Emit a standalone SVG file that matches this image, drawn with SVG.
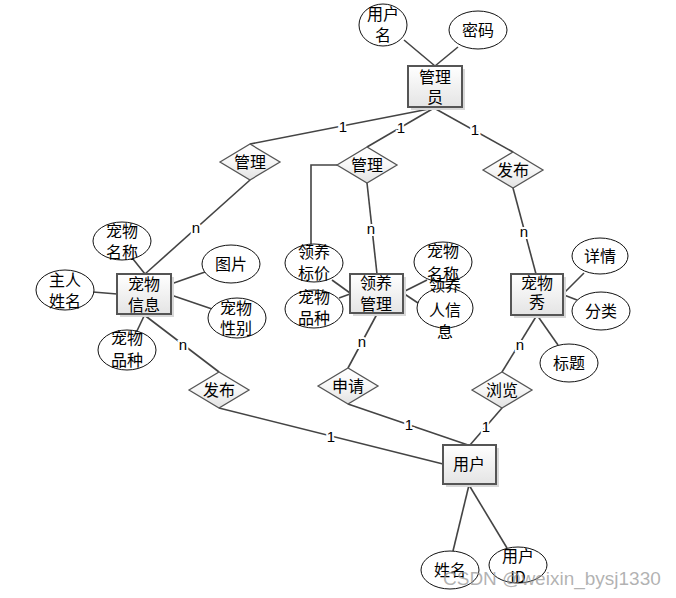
<svg xmlns="http://www.w3.org/2000/svg" width="676" height="598" viewBox="0 0 676 598">
<defs>
<linearGradient id="gBox" x1="0" y1="0" x2="0" y2="1"><stop offset="0" stop-color="#ffffff"/><stop offset="1" stop-color="#e4e4e4"/></linearGradient>
<linearGradient id="gDia" x1="0" y1="0" x2="0" y2="1"><stop offset="0" stop-color="#ffffff"/><stop offset="0.5" stop-color="#f7f7f7"/><stop offset="1" stop-color="#e2e2e2"/></linearGradient>
</defs>
<style>
.ln{stroke:#444;stroke-width:1.6;fill:none}
.box{fill:url(#gBox);stroke:#555;stroke-width:2}
.sh{fill:#d8d8d8}
.dia{fill:url(#gDia);stroke:#555;stroke-width:1.3}
.ell{fill:#fff;stroke:#111;stroke-width:1}
.t{font-family:"Noto Sans CJK SC","Liberation Sans",sans-serif;font-size:16px;fill:#000;text-anchor:middle}
.c{font-family:"Liberation Sans",sans-serif;font-size:15px;fill:#000;text-anchor:middle;stroke:#fff;stroke-width:4;paint-order:stroke}
.wm{font-family:"Liberation Sans",sans-serif;font-size:19px;fill:#999;fill-opacity:0.75}
</style>
<g id="connectors">
<path class="ln" d="M404,40 L435,66"/>
<path class="ln" d="M458,47 L435,66"/>
<path class="ln" d="M434,108 L250,144"/>
<path class="ln" d="M434,108 L367,147"/>
<path class="ln" d="M434,108 L513,152"/>
<path class="ln" d="M250,180 L145,274"/>
<path class="ln" d="M337,165 L311,165 L311,244"/>
<path class="ln" d="M367,183 L377,274"/>
<path class="ln" d="M513,188 L536,274"/>
<path class="ln" d="M133,259 L145,274"/>
<path class="ln" d="M171,284 L205,272"/>
<path class="ln" d="M171,295 L212,309"/>
<path class="ln" d="M93,292 L117,294"/>
<path class="ln" d="M145,314 L136,333"/>
<path class="ln" d="M143,314 L219,372"/>
<path class="ln" d="M332,280 L350,293"/>
<path class="ln" d="M339,298 L350,294"/>
<path class="ln" d="M403,292 L427,280"/>
<path class="ln" d="M403,293 L418,303"/>
<path class="ln" d="M377,314 L348,368"/>
<path class="ln" d="M564,293 L584,273"/>
<path class="ln" d="M564,295 L577,300"/>
<path class="ln" d="M537,315 L502,372"/>
<path class="ln" d="M537,315 L558,345"/>
<path class="ln" d="M219,408 L443,464"/>
<path class="ln" d="M348,404 L468,445"/>
<path class="ln" d="M502,408 L470,445"/>
<path class="ln" d="M469,485 L453,551"/>
<path class="ln" d="M469,485 L507,548"/>
<text class="c" x="343" y="132">1</text>
<text class="c" x="401" y="133">1</text>
<text class="c" x="475" y="135">1</text>
<text class="c" x="196" y="233">n</text>
<text class="c" x="371" y="234">n</text>
<text class="c" x="524" y="237">n</text>
<text class="c" x="183" y="350">n</text>
<text class="c" x="362" y="347">n</text>
<text class="c" x="520" y="350">n</text>
<text class="c" x="331" y="442">1</text>
<text class="c" x="409" y="430">1</text>
<text class="c" x="486" y="432">1</text>
</g>
<g id="admin"><rect class="sh" x="411" y="69" width="54" height="41"/><rect class="box" x="408" y="66" width="54" height="41"/><text class="t" x="435" y="83">管理</text><text class="t" x="435" y="103">员</text></g>
<g id="admin-username"><ellipse class="ell" cx="383" cy="25" rx="24" ry="21"/><text class="t" x="383" y="20">用户</text><text class="t" x="383" y="41">名</text></g>
<g id="admin-password"><ellipse class="ell" cx="478" cy="30" rx="29" ry="19"/><text class="t" x="478" y="36">密码</text></g>
<g id="rel-manage1"><path class="dia" d="M220,162 L250,144 L280,162 L250,180 Z"/><text class="t" x="250" y="168">管理</text></g>
<g id="rel-manage2"><path class="dia" d="M337,165 L367,147 L397,165 L367,183 Z"/><text class="t" x="367" y="171">管理</text></g>
<g id="rel-publish1"><path class="dia" d="M483,170 L513,152 L543,170 L513,188 Z"/><text class="t" x="513" y="176">发布</text></g>
<g id="pet-info"><rect class="sh" x="120" y="277" width="54" height="40"/><rect class="box" x="117" y="274" width="54" height="40"/><text class="t" x="144" y="290">宠物</text><text class="t" x="144" y="311">信息</text></g>
<g id="pi-name"><ellipse class="ell" cx="122" cy="241" rx="29" ry="19"/><text class="t" x="122" y="237">宠物</text><text class="t" x="122" y="258">名称</text></g>
<g id="pi-pic"><ellipse class="ell" cx="231" cy="264" rx="29" ry="19"/><text class="t" x="231" y="270">图片</text></g>
<g id="pi-sex"><ellipse class="ell" cx="237" cy="318" rx="29" ry="20"/><text class="t" x="236" y="314">宠物</text><text class="t" x="236" y="334">性别</text></g>
<g id="pi-owner"><ellipse class="ell" cx="65" cy="290" rx="29" ry="20"/><text class="t" x="65" y="286">主人</text><text class="t" x="65" y="307">姓名</text></g>
<g id="pi-breed"><ellipse class="ell" cx="127" cy="350" rx="29" ry="20"/><text class="t" x="127" y="344">宠物</text><text class="t" x="127" y="366">品种</text></g>
<g id="adopt"><rect class="sh" x="353" y="277" width="53" height="39"/><rect class="box" x="350" y="274" width="53" height="39"/><text class="t" x="376" y="289">领养</text><text class="t" x="376" y="310">管理</text></g>
<g id="ad-price"><ellipse class="ell" cx="314" cy="263" rx="29" ry="19"/><text class="t" x="314" y="258">领养</text><text class="t" x="314" y="279">标价</text></g>
<g id="ad-breed"><ellipse class="ell" cx="314" cy="309" rx="29" ry="19"/><text class="t" x="314" y="303">宠物</text><text class="t" x="314" y="324">品种</text></g>
<g id="ad-name"><ellipse class="ell" cx="443" cy="262" rx="29" ry="20"/><text class="t" x="443" y="257">宠物</text><text class="t" x="443" y="280">名称</text></g>
<g id="ad-person"><ellipse class="ell" cx="445" cy="308" rx="28" ry="20"/><text class="t" x="445" y="291">领养</text><text class="t" x="445" y="316">人信</text><text class="t" x="445" y="338">息</text></g>
<g id="pet-show"><rect class="sh" x="514" y="277" width="52" height="41"/><rect class="box" x="511" y="274" width="52" height="41"/><text class="t" x="537" y="289">宠物</text><text class="t" x="537" y="308">秀</text></g>
<g id="ps-detail"><ellipse class="ell" cx="600" cy="256" rx="28" ry="18"/><text class="t" x="600" y="262">详情</text></g>
<g id="ps-category"><ellipse class="ell" cx="601" cy="311" rx="29" ry="19"/><text class="t" x="601" y="317">分类</text></g>
<g id="ps-title"><ellipse class="ell" cx="569" cy="363" rx="29" ry="19"/><text class="t" x="569" y="369">标题</text></g>
<g id="rel-publish2"><path class="dia" d="M189,390 L219,372 L249,390 L219,408 Z"/><text class="t" x="219" y="396">发布</text></g>
<g id="rel-apply"><path class="dia" d="M318,386 L348,368 L378,386 L348,404 Z"/><text class="t" x="348" y="392">申请</text></g>
<g id="rel-browse"><path class="dia" d="M472,390 L502,372 L532,390 L502,408 Z"/><text class="t" x="502" y="396">浏览</text></g>
<g id="user"><rect class="sh" x="446" y="448" width="53" height="39"/><rect class="box" x="443" y="445" width="53" height="39"/><text class="t" x="469" y="470">用户</text></g>
<g id="u-name"><ellipse class="ell" cx="450" cy="570" rx="29" ry="19"/><text class="t" x="450" y="576">姓名</text></g>
<g id="u-id"><ellipse class="ell" cx="518" cy="565" rx="29" ry="18"/><text class="t" x="518" y="562">用户</text><text class="t" x="518" y="583">ID</text></g>
<text class="wm" x="443" y="585">CSDN @weixin_bysj1330</text>
</svg>
